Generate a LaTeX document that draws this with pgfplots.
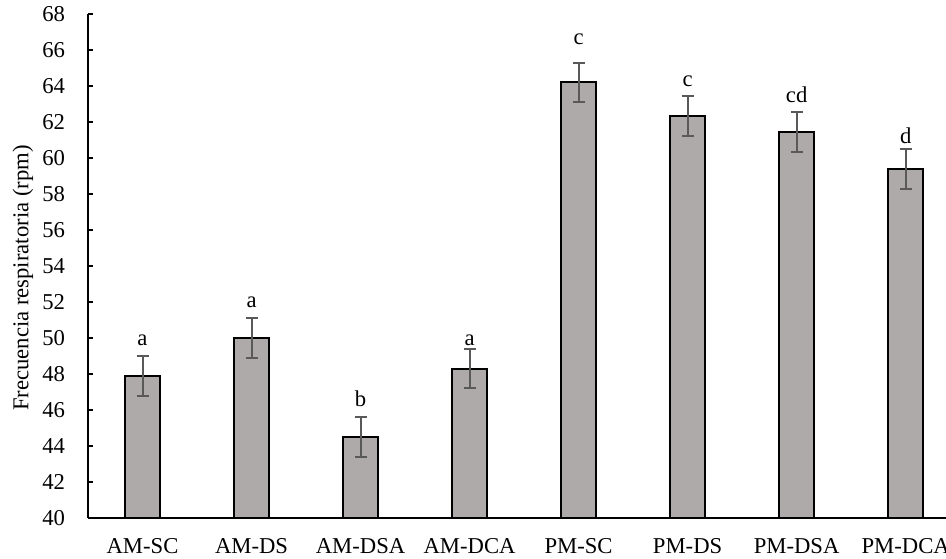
\documentclass[border=0pt]{standalone}
\usepackage{fontspec}
\setmainfont{Liberation Serif}
\usepackage{pgfplots}
\usepackage{pgfplotstable}
\pgfplotsset{compat=1.18}
\definecolor{barfill}{HTML}{AEAAAA}
\definecolor{errc}{HTML}{595959}
\pgfplotstableread{
x y e
0 47.9 1.1
1 50.0 1.1
2 44.5 1.1
3 48.3 1.1
4 64.2 1.1
5 62.35 1.1
6 61.45 1.1
7 59.4 1.1
}\bars
\pgfplotstableread{
x y lab
0 49.56 a
1 51.67 a
2 46.17 b
3 49.6 a
4 66.28 c
5 63.96 c
6 63.07 cd
7 60.78 d
}\letters
\begin{document}
\begin{tikzpicture}[font=\fontsize{17}{20}\selectfont]
\begin{axis}[
  at={(0,0)}, anchor=south west,
  scale only axis, width=643.5pt, height=378pt,
  xmin=-0.5, xmax=7.37, ymin=40, ymax=68,
  ytick={40,42,...,68},
  xtick={0,...,7},
  xticklabels={AM-SC,AM-DS,AM-DSA,AM-DCA,PM-SC,PM-DS,PM-DSA,PM-DCA},
  axis lines=left,
  axis line style={-, line width=2pt, black},
  tick align=inside,
  major tick length=4pt,
  ytick style={line width=2pt, black},
  xtick style={draw=none},
  /pgf/number format/assume math mode=true,
  yticklabel style={inner sep=0pt, anchor=east, xshift=-17pt},
  xticklabel style={inner sep=0pt, anchor=north, yshift=-14.8pt},
  ylabel={Frecuencia respiratoria (rpm)},
  ylabel style={at={(axis description cs:-0.0758,0.476)}, anchor=center},
]
\addplot[ybar, bar width=26.25pt, fill=barfill, draw=black, line width=1.5pt,
  error bars/.cd, y dir=both, y explicit,
  error bar style={line width=1.5pt, errc},
  error mark options={rotate=90, mark size=4.5pt, line width=1.5pt, errc}]
  table[x=x, y=y, y error=e] {\bars};
\addplot[draw=none, mark=none, nodes near coords, point meta=explicit symbolic,
  nodes near coords style={anchor=base, inner sep=0pt, black}]
  table[x=x, y=y, meta=lab] {\letters};
\end{axis}
\pgfresetboundingbox
\path[use as bounding box] (-66pt,-30pt) rectangle (643.5pt,388.5pt);
\end{tikzpicture}
\end{document}
